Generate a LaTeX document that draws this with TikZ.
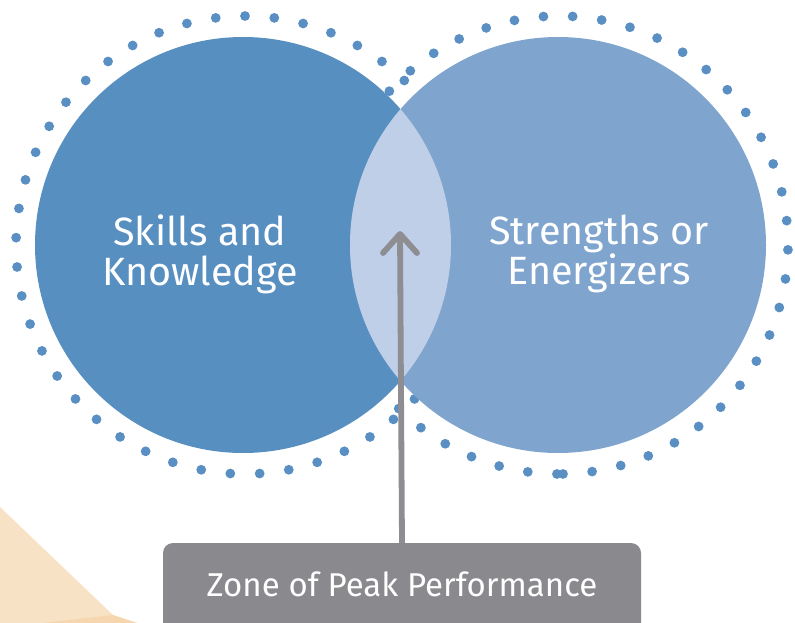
\documentclass[tikz,border=0pt]{standalone}
\usepackage{fontspec}
\setmainfont{Fira Sans}
\definecolor{leftblue}{HTML}{588FC1}
\definecolor{rightblue}{HTML}{7FA4CE}
\definecolor{lensblue}{HTML}{BFCFE8}
\definecolor{dotblue}{HTML}{5A8FC3}
\definecolor{zonegray}{HTML}{8A898E}
\definecolor{pointergray}{HTML}{8E8D92}
\definecolor{sand}{HTML}{F7E2C6}
\definecolor{sanddark}{HTML}{F6D6AF}
\begin{document}
\begin{tikzpicture}[x=1pt,y=-1pt,
  venn/.style={circle, inner sep=0pt, minimum size=416pt},
  ringdot/.style={fill=dotblue},
  circlabel/.style={text=white, inner sep=0pt, align=center,
    font=\fontsize{39.5}{40}\selectfont},
  zonebox/.style={fill=zonegray, rounded corners=10pt, text=white,
    minimum width=478pt, minimum height=92pt, inner sep=0pt,
    text height=28pt, text depth=14pt,
    font=\fontsize{33}{36}\selectfont},
  pointer/.style={draw=pointergray, line width=5.8pt},
  chevron/.style={draw=pointergray, line width=5.8pt, line cap=round, line join=round}]
\useasboundingbox (0,0) rectangle (795,623);

% sand-coloured corner shape
\fill[sand] (0,507) -- (113,615) -- (137,623) -- (0,623) -- cycle;
\fill[sanddark] (113,615) -- (137,623) -- (43,623) -- cycle;

% dotted rings around both circles
\foreach \k in {0,...,48}
  \fill[ringdot] (245,245) ++({270+\k*7.347}:229) circle[radius=4.9];
\foreach \k in {0,...,49}
  \fill[ringdot] (559,245) ++({89-\k*7.316}:229) circle[radius=4.9];

% the two circles and their overlap
\node[venn, fill=leftblue] (skills) at (243,245) {};
\node[venn, fill=rightblue] (strengths) at (558,245) {};
\begin{scope}
  \clip (243,245) circle[radius=208];
  \fill[lensblue] (558,245) circle[radius=208];
\end{scope}

% circle labels
\node[circlabel] (skillsText) at (200,254) {Skills and\\Knowledge};
\node[circlabel] (strengthsText) at (599,254) {Strengths or\\Energizers};

% label box and pointer into the overlap
\node[zonebox] (zone) at (402,589) {Zone of Peak Performance};
\coordinate (tip) at (400,234);
\draw[pointer] (zone.north) -- (tip);
\draw[chevron] (tip) ++(-17,19) -- (tip) -- ++(17,19);
\end{tikzpicture}
\end{document}
